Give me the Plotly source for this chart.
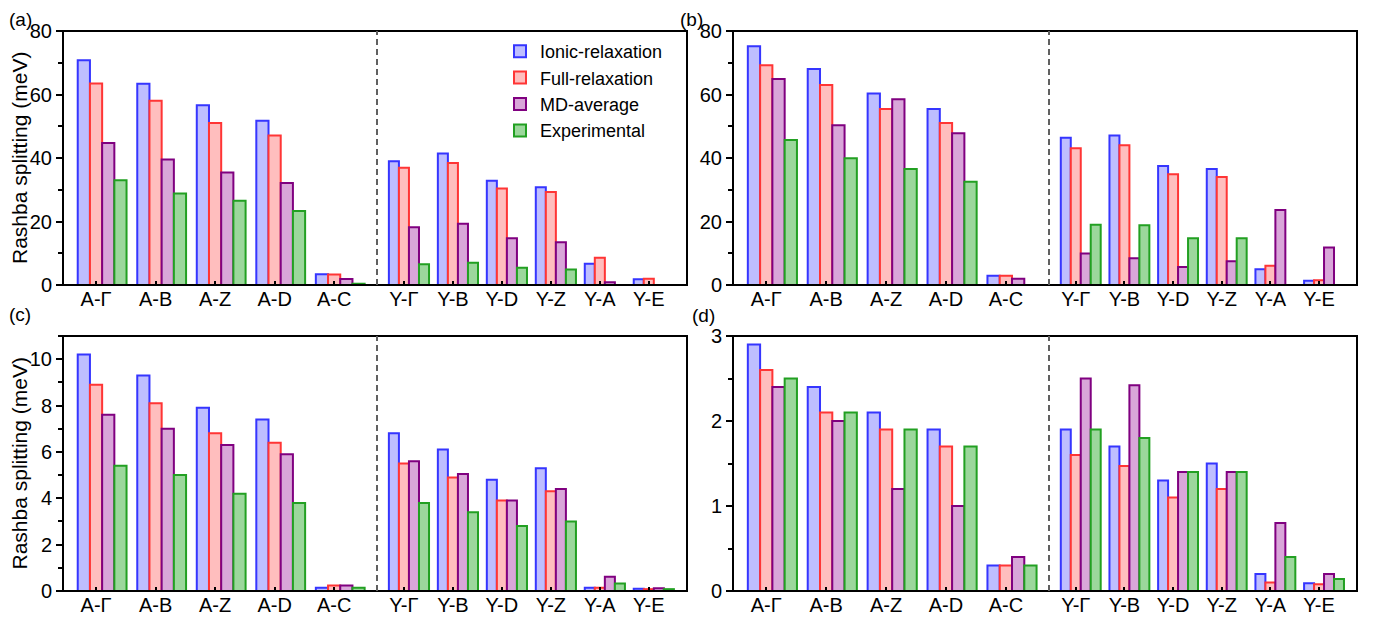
import plotly.graph_objects as go

# ---------------- data ----------------
cats_A = ["A-Γ", "A-B", "A-Z", "A-D", "A-C"]
cats_Y = ["Y-Γ", "Y-B", "Y-D", "Y-Z", "Y-A", "Y-E"]
series_names = ["Ionic-relaxation", "Full-relaxation", "MD-average", "Experimental"]

# panel (a)  values: A-Γ, A-B, A-Z, A-D, A-C | Y-Γ, Y-B, Y-D, Y-Z, Y-A, Y-E
a_ionic = [70.8, 63.4, 56.6, 51.7, 3.4, 39.0, 41.4, 32.8, 30.8, 6.7, 1.8]
a_full = [63.5, 58.0, 51.0, 47.1, 3.3, 36.9, 38.4, 30.4, 29.3, 8.6, 2.0]
a_md = [44.7, 39.5, 35.4, 32.1, 1.9, 18.2, 19.3, 14.7, 13.5, 0.9, None]
a_exp = [33.0, 28.8, 26.5, 23.3, 0.4, 6.5, 7.0, 5.4, 4.9, None, None]

# panel (b)
b_ionic = [75.2, 68.0, 60.3, 55.4, 2.9, 46.4, 47.1, 37.5, 36.5, 5.0, 1.3]
b_full = [69.2, 63.0, 55.4, 51.0, 2.9, 43.1, 44.0, 34.9, 34.0, 6.1, 1.5]
b_md = [64.9, 50.3, 58.5, 47.8, 2.0, 9.9, 8.4, 5.7, 7.5, 23.6, 11.8]
b_exp = [45.7, 39.9, 36.5, 32.5, None, 19.0, 18.8, 14.7, 14.7, None, None]

# panel (c)
c_ionic = [10.2, 9.3, 7.9, 7.4, 0.14, 6.8, 6.1, 4.8, 5.3, 0.14, 0.1]
c_full = [8.9, 8.1, 6.8, 6.4, 0.24, 5.5, 4.9, 3.9, 4.3, 0.14, 0.08]
c_md = [7.6, 7.0, 6.3, 5.9, 0.24, 5.6, 5.05, 3.9, 4.4, 0.62, 0.12]
c_exp = [5.4, 5.0, 4.2, 3.8, 0.14, 3.8, 3.4, 2.8, 3.0, 0.32, 0.08]

# panel (d)
d_ionic = [2.9, 2.4, 2.1, 1.9, 0.3, 1.9, 1.7, 1.3, 1.5, 0.2, 0.09]
d_full = [2.6, 2.1, 1.9, 1.7, 0.3, 1.6, 1.47, 1.1, 1.2, 0.1, 0.08]
d_md = [2.4, 2.0, 1.2, 1.0, 0.4, 2.5, 2.42, 1.4, 1.4, 0.8, 0.2]
d_exp = [2.5, 2.1, 1.9, 1.7, 0.3, 1.9, 1.8, 1.4, 1.4, 0.4, 0.14]

panel_labels = ["(a)", "(b)", "(c)", "(d)"]
y_ranges = [[0, 80], [0, 80], [0, 11], [0, 3]]
y_dticks = [20, 20, 2, 1]
y_minor = [10, 10, 1, 0.5]
y_title = "Rashba splitting (meV)"

# ---------------- style ----------------
W, H = 1387, 625
OFF = 8  # page body margin
FONT = "Liberation Sans, Arial, sans-serif"
fill_colors = ["#BEBEFF", "#FFBEBE", "#D9A6D9", "#9CD79C"]
edge_colors = ["#3535FF", "#FF3535", "#800080", "#22A022"]
BAR_W = 0.205

# pixel geometry of each panel: left, split (dashed line), right, top, bottom
geom = [
    (63, 377, 687, 31, 285),
    (733, 1049, 1357, 31, 285),
    (63, 377, 687, 336, 591),
    (733, 1049, 1357, 336, 591),
]
# panel label anchor: (x px, xanchor, y px, yanchor)
label_pos = [
    (OFF, "left", OFF, "top"),
    (691, "center", OFF, "top"),
    (OFF, "left", 314, "middle"),
    (703, "center", 315, "middle"),
]


def fx(p):
    return (p - OFF) / W


def fy(p):
    return 1 - (p - OFF) / H


data = [
    [a_ionic, a_full, a_md, a_exp],
    [b_ionic, b_full, b_md, b_exp],
    [c_ionic, c_full, c_md, c_exp],
    [d_ionic, d_full, d_md, d_exp],
]

fig = go.Figure()
layout = dict(
    width=W,
    height=H,
    margin=dict(l=0, r=0, t=0, b=0),
    plot_bgcolor="white",
    paper_bgcolor="white",
    barmode="overlay",
    font=dict(family=FONT, size=20, color="black"),
    showlegend=True,
    legend=dict(
        x=fx(500), y=fy(33), xanchor="left", yanchor="top",
        font=dict(family=FONT, size=18, color="black"),
        bgcolor="rgba(0,0,0,0)", itemwidth=30,
        tracegroupgap=0,
    ),
    shapes=[],
    annotations=[],
)
n = len(cats_A)

for p in range(4):
    x0, xs, x1, yt, yb = geom[p]
    xa = 2 * p + 1
    xy = 2 * p + 2
    ya = p + 1
    xa_name = "xaxis" if xa == 1 else f"xaxis{xa}"
    xy_name = f"xaxis{xy}"
    ya_name = "yaxis" if ya == 1 else f"yaxis{ya}"
    xa_ref = "x" if xa == 1 else f"x{xa}"
    xy_ref = f"x{xy}"
    ya_ref = "y" if ya == 1 else f"y{ya}"

    common_x = dict(
        type="category", showgrid=False, zeroline=False, showline=False,
        ticks="inside", ticklen=4, tickwidth=1.5, tickcolor="black",
        tickfont=dict(family=FONT, size=20), automargin=False,
        anchor=ya_ref, fixedrange=True,
    )
    layout[xa_name] = dict(common_x, domain=[fx(x0), fx(xs)], range=[-0.555, 4.72])
    layout[xy_name] = dict(common_x, domain=[fx(xs), fx(x1)], range=[-0.55, 5.78])
    layout[ya_name] = dict(
        domain=[fy(yb), fy(yt)], range=y_ranges[p], dtick=y_dticks[p],
        anchor=xa_ref, showgrid=False, zeroline=False, showline=False,
        ticks="outside", ticklen=6, tickwidth=1.5, tickcolor="black",
        minor=dict(dtick=y_minor[p], ticks="outside", ticklen=4,
                   tickwidth=1.5, tickcolor="black", showgrid=False),
        tickfont=dict(family=FONT, size=20), automargin=False, fixedrange=True,
    )

    for i, vals in enumerate(data[p]):
        for cats, v, xr in ((cats_A, vals[:n], xa_ref), (cats_Y, vals[n:], xy_ref)):
            fig.add_trace(go.Bar(
                x=cats, y=v, xaxis=xr, yaxis=ya_ref,
                name=series_names[i], legendgroup=series_names[i],
                showlegend=(p == 0 and xr == xa_ref),
                width=BAR_W, offset=(i - 1.5) * BAR_W,
                marker=dict(color=fill_colors[i],
                            line=dict(color=edge_colors[i], width=2)),
            ))

    # frame
    layout["shapes"].append(dict(
        type="rect", xref="paper", yref="paper",
        x0=fx(x0), x1=fx(x1), y0=fy(yb), y1=fy(yt),
        line=dict(color="black", width=2), layer="above",
    ))
    # dashed separator
    layout["shapes"].append(dict(
        type="line", xref="paper", yref="paper",
        x0=fx(xs), x1=fx(xs), y0=fy(yb), y1=fy(yt),
        line=dict(color="#606060", width=2, dash="6px,4px"), layer="above",
    ))
    # panel label
    lx, lxa, ly, lya = label_pos[p]
    layout["annotations"].append(dict(
        text=panel_labels[p], xref="paper", yref="paper",
        x=fx(lx), y=fy(ly), showarrow=False, borderpad=0,
        font=dict(family=FONT, size=19), xanchor=lxa, yanchor=lya,
    ))
    if p in (0, 2):
        layout["annotations"].append(dict(
            text=y_title, xref="paper", yref="paper", textangle=-90,
            x=fx(19), y=fy((yt + yb) / 2), showarrow=False,
            font=dict(family=FONT, size=21), xanchor="center", yanchor="middle",
        ))

fig.update_layout(**layout)
fig.write_html("out.html")
